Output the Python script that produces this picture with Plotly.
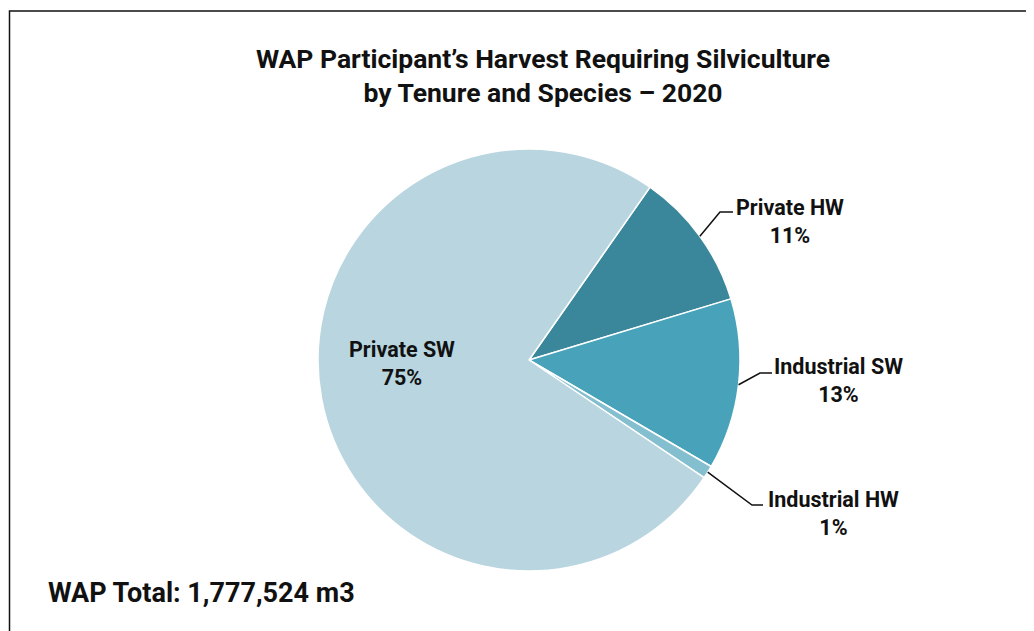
import math
import plotly.graph_objects as go

# page body has an 8px margin; figure sized to fit the 1034x631 window
OFF = 8
W, H = 1034 - OFF, 631 - OFF

categories = ["Private HW", "Industrial SW", "Industrial HW", "Private SW"]
shares = [10.6, 13.1, 1.0, 75.3]
colors = ["#3A879B", "#47A2BA", "#84BFD0", "#B8D5E0"]
title_text = "WAP Participant’s Harvest Requiring Silviculture<br>by Tenure and Species – 2020"
total_text = "WAP Total: 1,777,524 m3"

# pie geometry (window pixels)
cx, cy, r = 529, 360, 211
rotation = 35

def px(x):
    return (x - OFF) / W

def py(y):
    return 1 - (y - OFF) / H

fig = go.Figure()
fig.add_trace(go.Pie(
    labels=categories,
    values=shares,
    sort=False,
    direction="clockwise",
    rotation=rotation,
    marker=dict(colors=colors, line=dict(color="white", width=1.5)),
    textinfo="none",
    hoverinfo="label+percent",
    showlegend=False,
    domain=dict(x=[px(cx - r), px(cx + r)], y=[py(cy + r), py(cy - r)]),
))

label_font = dict(family="Roboto, sans-serif", size=21.5, color="#111111", weight="bold")

label_pos = {
    "Private HW": (790, 221),
    "Industrial SW": (838, 380),
    "Industrial HW": (833, 513),
    "Private SW": (402, 363),
}
elbows = {
    "Private HW": ((720, 212), (733, 212)),
    "Industrial SW": ((760, 373), (772, 373)),
    "Industrial HW": ((752, 505), (763, 505)),
}

total = sum(shares)
acc = 0.0
shapes = []
annotations = []
for cat, v in zip(categories, shares):
    mid = rotation + (acc + v / 2) / total * 360
    acc += v
    pct = round(v / total * 100)
    lx, ly = label_pos[cat]
    annotations.append(dict(
        x=px(lx), y=py(ly), xref="paper", yref="paper",
        text=f"{cat}<br>{pct}%", showarrow=False,
        font=label_font, xanchor="center", yanchor="middle", align="center",
    ))
    if cat in elbows:
        a = math.radians(mid)
        sx = cx + r * math.sin(a)
        sy = cy - r * math.cos(a)
        (ex, ey), (hx, hy) = elbows[cat]
        path = f"M {px(sx)} {py(sy)} L {px(ex)} {py(ey)} L {px(hx)} {py(hy)}"
        shapes.append(dict(type="path", xref="paper", yref="paper", path=path,
                           line=dict(color="#111111", width=1.5)))

annotations.append(dict(
    x=px(46), y=py(593), xref="paper", yref="paper", text=total_text,
    showarrow=False, xanchor="left", yanchor="middle",
    font=dict(family="Roboto, sans-serif", size=27, color="#111111", weight="bold"),
))

# outer frame (extends past right and bottom edges)
shapes.append(dict(type="rect", xref="paper", yref="paper",
                   x0=px(9.5), x1=1.02, y0=-0.02, y1=py(11),
                   line=dict(color="#111111", width=1.5), fillcolor="rgba(0,0,0,0)"))

fig.update_layout(
    width=W, height=H,
    margin=dict(l=0, r=0, t=0, b=0),
    paper_bgcolor="white", plot_bgcolor="white",
    title=dict(text=title_text, x=px(543), xanchor="center", y=py(68), yanchor="middle",
               font=dict(family="Roboto, sans-serif", size=26.5, color="#111111", weight="bold")),
    shapes=shapes,
    annotations=annotations,
)

fig.write_html("out.html")
